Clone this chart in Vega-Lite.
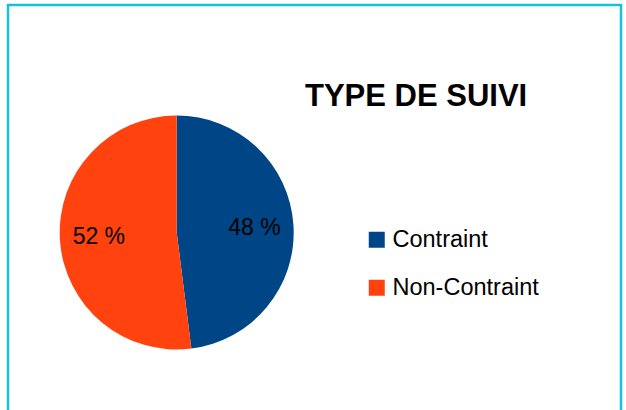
{
  "$schema": "https://vega.github.io/schema/vega-lite/v6.json",
  "width": 613,
  "height": 420,
  "autosize": {"type": "none"},
  "padding": {"left": 8, "top": 5, "right": 5, "bottom": 0},
  "background": "white",
  "view": {"stroke": "#17c1dd", "strokeWidth": 2.5, "fill": "white"},
  "title": {
    "text": "TYPE DE SUIVI",
    "anchor": "start",
    "dx": 297,
    "dy": 132,
    "offset": 0,
    "baseline": "alphabetic",
    "font": "Liberation Sans",
    "fontSize": 31,
    "fontWeight": "bold",
    "color": "black"
  },
  "data": {
    "values": [
      {"type": "Contraint", "pct": 48, "label": "48 %"},
      {"type": "Non-Contraint", "pct": 52, "label": "52 %"}
    ]
  },
  "encoding": {
    "theta": {"field": "pct", "type": "quantitative", "stack": true}
  },
  "layer": [
    {
      "mark": {"type": "arc", "x": 168.7, "y": 227.5, "radius": 117},
      "encoding": {
        "color": {
          "field": "type",
          "type": "nominal",
          "scale": {"domain": ["Contraint", "Non-Contraint"], "range": ["#004586", "#ff420e"]},
          "legend": {
            "orient": "none",
            "legendX": 357,
            "legendY": 223,
            "title": null,
            "symbolType": "square",
            "symbolSize": 256,
            "symbolStrokeWidth": 0,
            "symbolOpacity": 1,
            "labelFont": "Liberation Sans",
            "labelFontSize": 23.5,
            "labelColor": "black",
            "labelOffset": 4,
            "rowPadding": 23,
            "padding": 0,
            "labelLimit": 300
          }
        }
      }
    },
    {
      "mark": {"type": "text", "x": 168.7, "y": 227.5, "radius": 78, "font": "Liberation Sans", "fontSize": 23, "baseline": "middle", "align": "center"},
      "encoding": {
        "detail": {"field": "type", "type": "nominal"},
        "text": {"field": "label", "type": "nominal"},
        "color": {"value": "black"}
      }
    }
  ]
}
